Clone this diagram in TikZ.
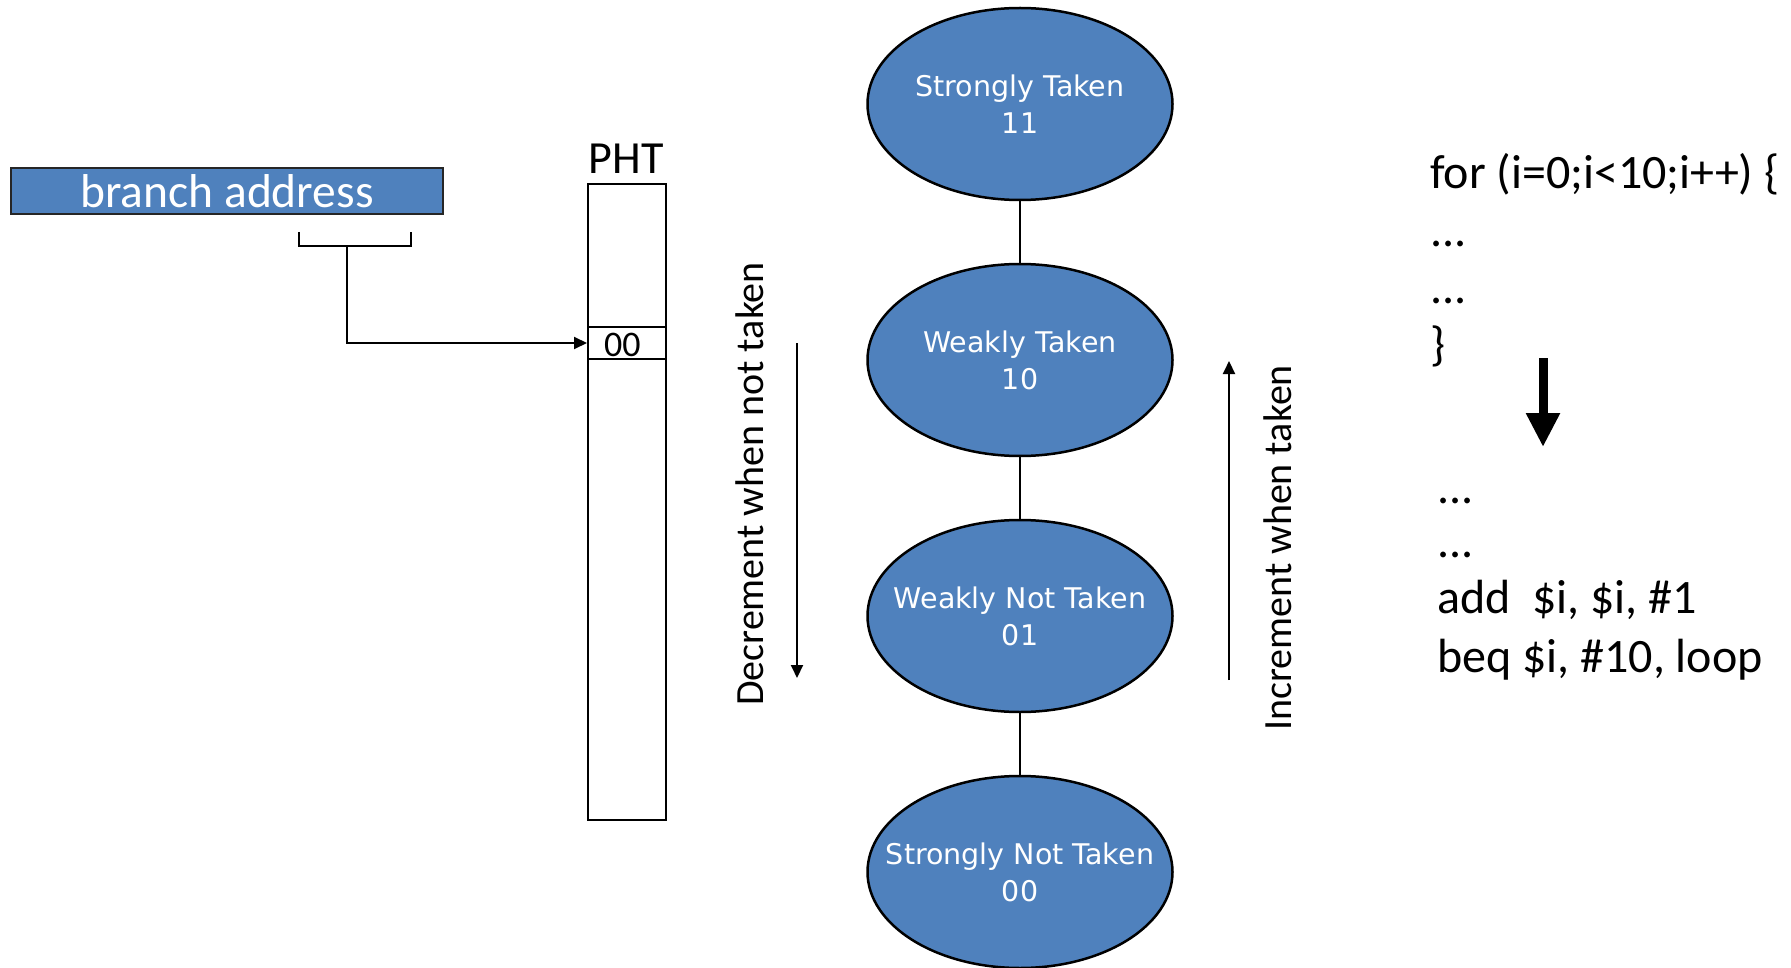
\documentclass[tikz,border=0pt]{standalone}
\usepackage{fontspec}
\setmainfont{Carlito}
\newfontfamily\verd{DejaVu Sans}
\usetikzlibrary{arrows.meta,shapes.geometric}
\definecolor{obl}{HTML}{4F81BD}
\begin{document}
\begin{tikzpicture}[x=1pt,y=-1pt,
  state/.style={ellipse, draw=black, line width=2.5pt, fill=obl, minimum width=305pt, minimum height=192pt, inner sep=0pt},
  stext/.style={inner sep=0pt, text=white, align=center, font=\verd\fontsize{28.5}{37}\selectfont},
  code/.style={anchor=base west, inner sep=0pt, font=\fontsize{48}{57}\selectfont},
  thin/.style={line width=2pt},
  tip/.style={-{Triangle[length=13pt,width=12pt]}},
  vlabel/.style={rotate=90, inner sep=0pt, font=\fontsize{40}{48}\selectfont}
]
\useasboundingbox (0,0) rectangle (1791,968);

% branch address
\node[draw=black!85, line width=2.5pt, fill=obl, minimum width=432pt, minimum height=46pt, inner sep=0pt, text=white, font=\fontsize{47.5}{57}\selectfont] (ba) at (227,191) {branch address};

% bracket
\coordinate (bl) at (299,232);
\coordinate (blb) at (299,246);
\coordinate (brb) at (411,246);
\coordinate (br) at (411,232);
\coordinate (stem) at (347,246);
\draw[thin] (bl) -- (blb) -- (brb) -- (br);

% PHT
\node[draw, thin, minimum width=78pt, minimum height=636pt, inner sep=0pt] (pht) at (627,502) {};
\node[anchor=base, inner sep=0pt, font=\fontsize{46}{55}\selectfont] (phtl) at (626,174) {PHT};
\node[draw, thin, minimum width=78pt, minimum height=32pt, inner sep=0pt] (row) at (627,343) {};
\node[anchor=base west, inner sep=0pt, font=\fontsize{36}{43}\selectfont] (zz) at (604,356) {00};
\draw[thin, tip] (stem) |- (row.west);

% states
\node[state] (s11) at (1020,104) {};
\node[state] (s10) at (1020,360) {};
\node[state] (s01) at (1020,616) {};
\node[state] (s00) at (1020,872) {};
\node[stext] (t11) at (s11) {Strongly Taken\\11};
\node[stext] (t10) at (s10) {Weakly Taken\\10};
\node[stext] (t01) at (s01) {Weakly Not Taken\\01};
\node[stext] (t00) at (s00) {Strongly Not Taken\\00};
\draw[thin] (s11) -- (s10);
\draw[thin] (s10) -- (s01);
\draw[thin] (s01) -- (s00);

% decrement / increment
\coordinate (da) at (797,343);
\coordinate (db) at (797,678);
\draw[thin, tip] (da) -- (db);
\node[vlabel] (dec) at (750,484) {Decrement when not taken};
\coordinate (ia) at (1229,680);
\coordinate (ib) at (1229,361);
\draw[thin, tip] (ia) -- (ib);
\node[vlabel] (inc) at (1278,548) {Increment when taken};

% code
\node[code] (c1) at (1430,189) {for (i=0;i<10;i++) \{};
\node[code] (c2) at (1430,247) {...};
\node[code] (c3) at (1430,304) {...};
\node[code] (c4) at (1430,360) {\}};
\coordinate (ta) at (1543,358);
\coordinate (tb) at (1543,447);
\draw[line width=9pt, -{Triangle[length=34pt,width=32pt]}] (ta) -- (tb);
\node[code] (c5) at (1437,503) {...};
\node[code] (c6) at (1437,557) {...};
\node[code] (c7) at (1437,613) {add\ \ \$i, \$i, \#1};
\node[code] (c8) at (1437,672) {beq \$i, \#10, loop};
\end{tikzpicture}
\end{document}
